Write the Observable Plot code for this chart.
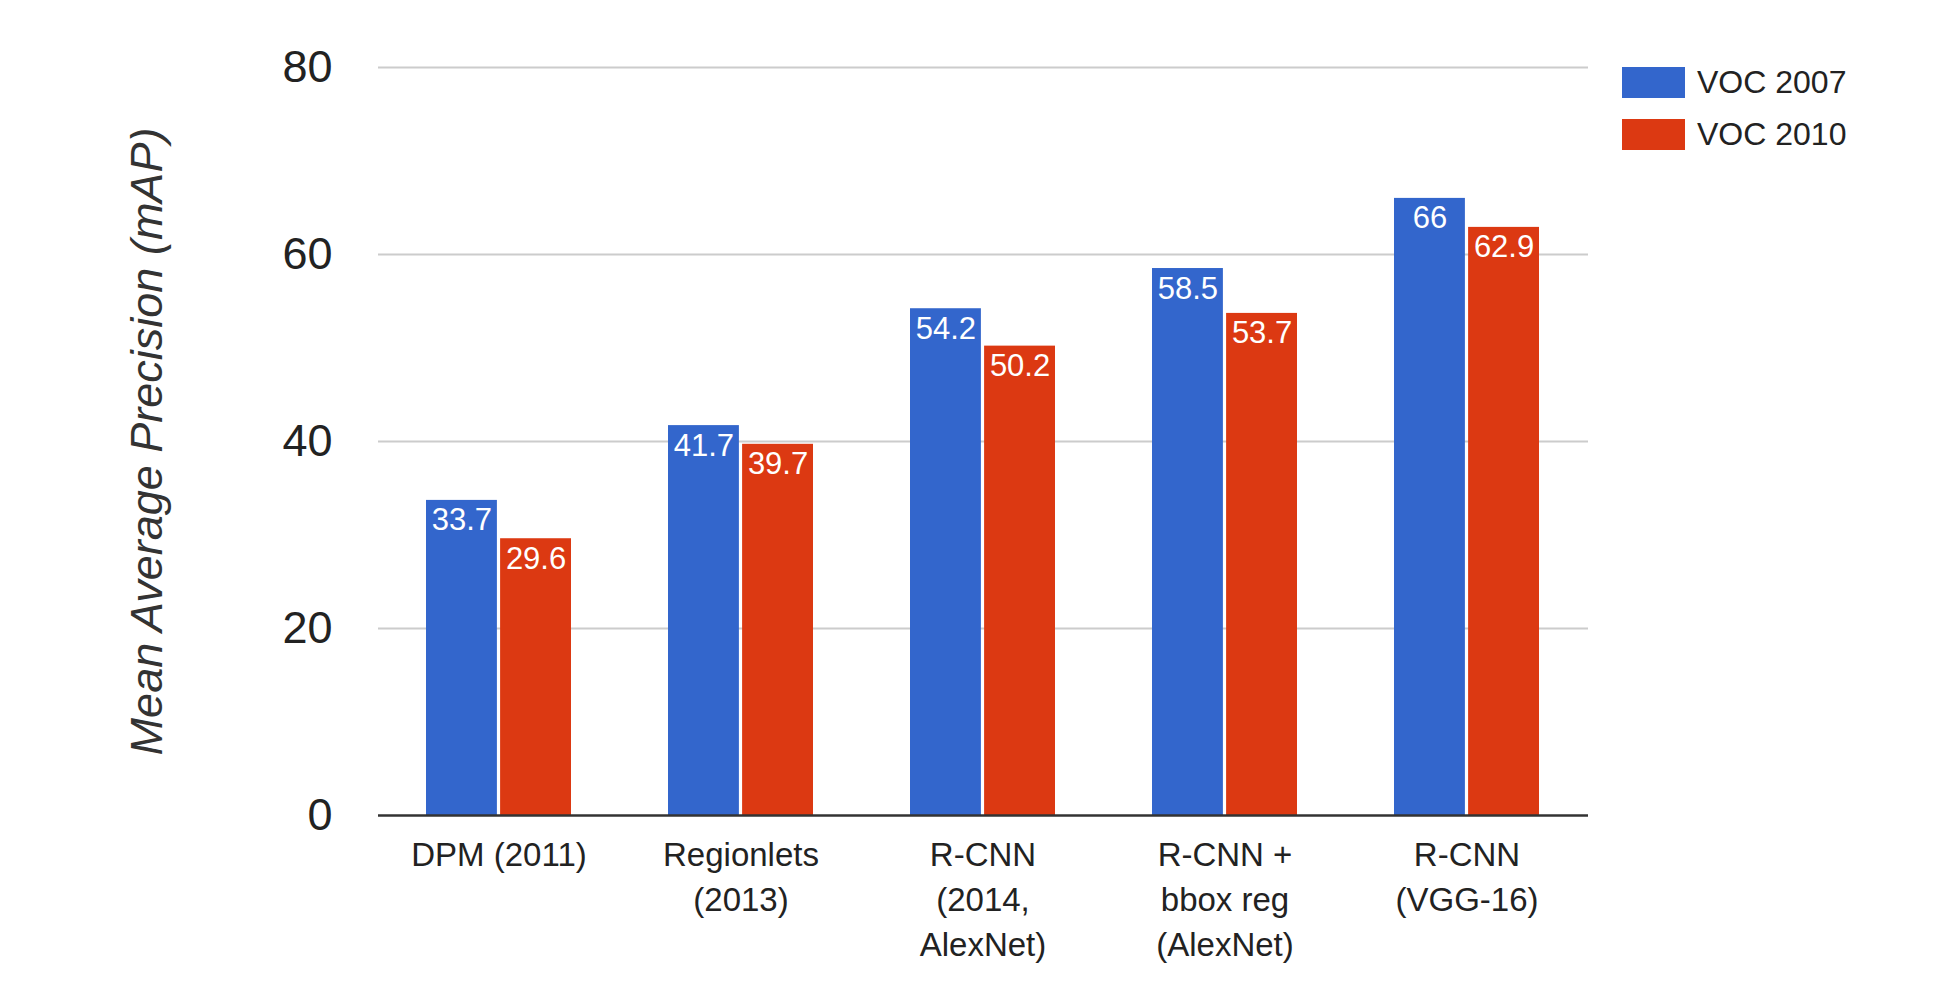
<!DOCTYPE html>
<html>
<head>
<meta charset="utf-8">
<script src="https://cdn.jsdelivr.net/npm/d3@7"></script>
<script src="https://cdn.jsdelivr.net/npm/@observablehq/plot@0.6"></script>
<style>
  html, body { margin: 0; padding: 0; background: #fff; }
  #wrap { position: relative; width: 1942px; height: 1000px; font-family: "Liberation Sans", Arial, sans-serif; }
  #legend { position: absolute; left: 1622px; top: 67px; }
  .item { display: flex; align-items: center; height: 31px; margin-bottom: 21px; }
  .sw { width: 63px; height: 31px; margin-right: 12px; }
  .lab { font-size: 32px; color: #222; line-height: 31px; }
</style>
</head>
<body>
<div id="wrap"><div id="legend"></div></div>
<script>
const categories = ["DPM (2011)", "Regionlets (2013)", "R-CNN (2014, AlexNet)", "R-CNN + bbox reg (AlexNet)", "R-CNN (VGG-16)"];
const tickLabels = ["DPM (2011)", "Regionlets\n(2013)", "R-CNN\n(2014,\nAlexNet)", "R-CNN +\nbbox reg\n(AlexNet)", "R-CNN\n(VGG-16)"];
const series = ["VOC 2007", "VOC 2010"];
const voc2007 = [33.7, 41.7, 54.2, 58.5, 66];
const voc2010 = [29.6, 39.7, 50.2, 53.7, 62.9];
const yTicks = [0, 20, 40, 60, 80];
const yTitle = "Mean Average Precision (mAP)";
const colors = ["#3366CC", "#DC3912"];

const rows07 = categories.map((c, i) => ({cat: c, series: series[0], value: voc2007[i]}));
const rows10 = categories.map((c, i) => ({cat: c, series: series[1], value: voc2010[i]}));

const W = 1942, ML = 378, MR = 354;
const step = (W - ML - MR) / 5;
const band = step * 0.6;
const half = band / 2 + 1.5;
const off = band / 4 + 0.75;

const chart = Plot.plot({
  width: W, height: 1000,
  marginLeft: ML, marginRight: MR, marginTop: 67, marginBottom: 185,
  style: {fontFamily: '"Liberation Sans", Arial, sans-serif', color: "#222", background: "white"},
  x: {domain: categories, paddingInner: 0.4, paddingOuter: 0.2, axis: null},
  y: {domain: [0, 80], axis: null},
  color: {domain: series, range: colors},
  marks: [
    Plot.gridY(yTicks.filter(d => d > 0), {stroke: "#cccccc", strokeOpacity: 1, strokeWidth: 2}),
    Plot.barY(rows07, {x: "cat", y: "value", fill: "series", insetRight: half}),
    Plot.barY(rows10, {x: "cat", y: "value", fill: "series", insetLeft: half}),
    Plot.text(rows07, {x: "cat", y: "value", text: d => String(d.value), dx: -off, dy: 8, lineAnchor: "top", fill: "white", fontSize: 31}),
    Plot.text(rows10, {x: "cat", y: "value", text: d => String(d.value), dx: off, dy: 8, lineAnchor: "top", fill: "white", fontSize: 31}),
    Plot.ruleY([0], {stroke: "#333", strokeWidth: 2.5}),
    Plot.axisY(yTicks, {tickSize: 0, tickPadding: 46, fontSize: 45, label: null, fill: "#222"}),
    Plot.axisX({tickSize: 0, tickPadding: 18, fontSize: 33, lineHeight: 1.37, label: null, fill: "#222",
      tickFormat: d => tickLabels[categories.indexOf(d)]}),
    Plot.text([yTitle], {frameAnchor: "left", dx: -231, rotate: -90, fontSize: 45, fontStyle: "italic", fill: "#333", textAnchor: "middle", lineAnchor: "middle"})
  ]
});
document.getElementById("wrap").prepend(chart);

const legend = document.getElementById("legend");
series.forEach((s, i) => {
  const it = document.createElement("div");
  it.className = "item";
  it.innerHTML = `<div class="sw" style="background:${colors[i]}"></div><div class="lab">${s}</div>`;
  legend.appendChild(it);
});
</script>
</body>
</html>
